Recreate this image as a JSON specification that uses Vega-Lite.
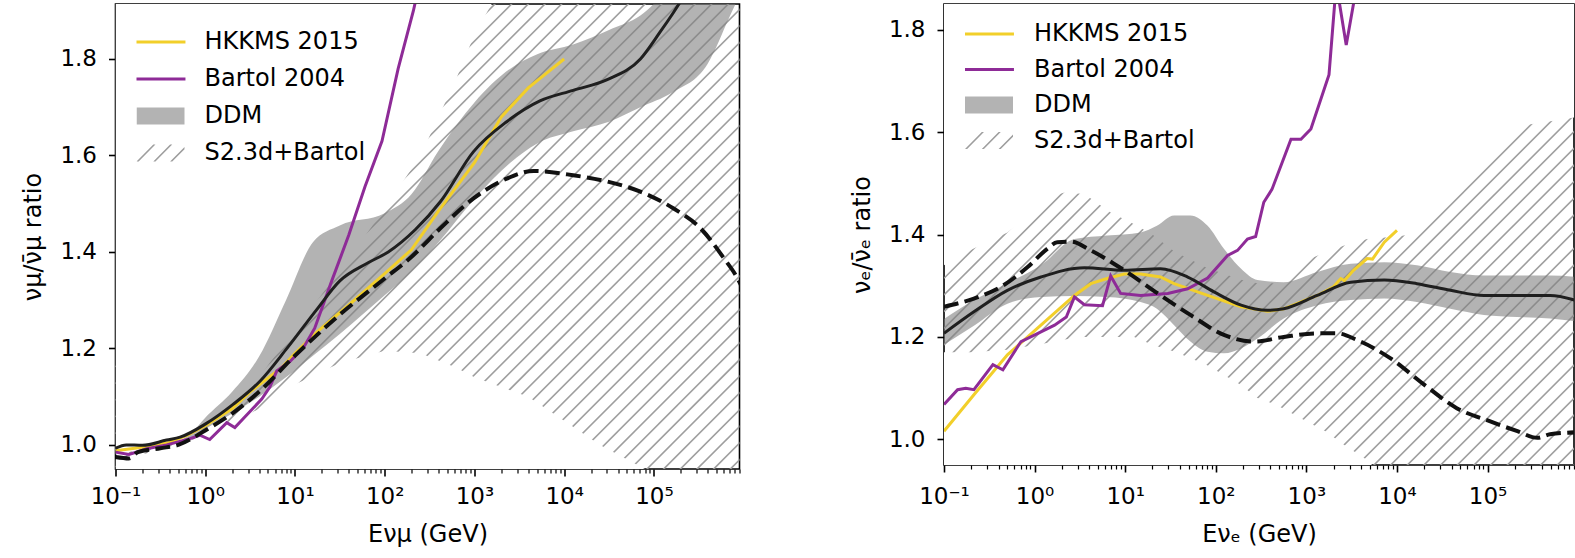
{
"$schema": "https://vega.github.io/schema/vega-lite/v6.json",
"background": "white",
"padding": {"left": 20.5, "top": 3, "right": 0, "bottom": 0},
"spacing": 107.5,
"resolve": {"scale": {"color": "independent", "shape": "independent"}, "legend": {"color": "independent", "shape": "independent"}},
"config": {
  "font": "DejaVu Sans",
  "view": {"stroke": "#000000", "strokeWidth": 1.6},
  "axis": {"grid": false, "domain": false, "tickColor": "#000000", "tickWidth": 1.6, "tickSize": 7, "labelFont": "DejaVu Sans", "labelFontSize": 23, "labelColor": "#000000", "titleFont": "DejaVu Sans", "titleFontSize": 24, "titleFontWeight": "normal", "titleColor": "#000000", "labelFlush": false, "labelOverlap": false},
  "legend": {"labelFont": "DejaVu Sans", "labelFontSize": 24, "labelColor": "#000000", "labelLimit": 400}
},
"datasets": {
  "legendItems": [{"series": "HKKMS 2015"}, {"series": "Bartol 2004"}, {"series": "DDM"}, {"series": "S2.3d+Bartol"}],
  "L_hatch": [
    {"h0": -0.36, "h1": 0.9429}, {"h0": -0.3254, "h1": 0.9775}, {"h0": -0.2908, "h1": 1.0121}, {"h0": -0.2563, "h1": 1.0466}, {"h0": -0.2217, "h1": 1.0812},
    {"h0": -0.1871, "h1": 1.1158}, {"h0": -0.1525, "h1": 1.1504}, {"h0": -0.1179, "h1": 1.185}, {"h0": -0.0834, "h1": 1.2195}, {"h0": -0.0488, "h1": 1.2541},
    {"h0": -0.0142, "h1": 1.2887}, {"h0": 0.0204, "h1": 1.3233}, {"h0": 0.055, "h1": 1.3579}, {"h0": 0.0895, "h1": 1.3924}, {"h0": 0.1241, "h1": 1.427},
    {"h0": 0.1587, "h1": 1.4616}, {"h0": 0.1933, "h1": 1.4962}, {"h0": 0.2279, "h1": 1.5308}, {"h0": 0.2624, "h1": 1.5653}, {"h0": 0.297, "h1": 1.5999},
    {"h0": 0.3316, "h1": 1.6345}, {"h0": 0.3662, "h1": 1.6691}, {"h0": 0.4008, "h1": 1.7037}, {"h0": 0.4353, "h1": 1.7382}, {"h0": 0.4699, "h1": 1.7728},
    {"h0": 0.5045, "h1": 1.8074}, {"h0": 0.5391, "h1": 1.842}, {"h0": 0.5737, "h1": 1.8766}, {"h0": 0.6082, "h1": 1.9111}, {"h0": 0.6428, "h1": 1.9457},
    {"h0": 0.6774, "h1": 1.9803}, {"h0": 0.712, "h1": 2.0149}, {"h0": 0.7466, "h1": 2.0495}, {"h0": 0.7811, "h1": 2.084}, {"h0": 0.8157, "h1": 2.1186},
    {"h0": 0.8503, "h1": 2.1532}, {"h0": 0.8849, "h1": 2.1878}, {"h0": 0.9195, "h1": 2.2224}, {"h0": 0.954, "h1": 2.2569}, {"h0": 0.9886, "h1": 2.2915},
    {"h0": 1.0232, "h1": 2.3261}, {"h0": 1.0578, "h1": 2.3607}, {"h0": 1.0924, "h1": 2.3953}, {"h0": 1.1269, "h1": 2.4298}, {"h0": 1.1615, "h1": 2.4644}
  ],
  "R_hatch": [
    {"h0": -0.28, "h1": 0.958}, {"h0": -0.2475, "h1": 0.9905}, {"h0": -0.2149, "h1": 1.0231}, {"h0": -0.1824, "h1": 1.0556}, {"h0": -0.1498, "h1": 1.0882},
    {"h0": -0.1173, "h1": 1.1207}, {"h0": -0.0848, "h1": 1.1532}, {"h0": -0.0522, "h1": 1.1858}, {"h0": -0.0197, "h1": 1.2183}, {"h0": 0.0129, "h1": 1.2509},
    {"h0": 0.0454, "h1": 1.2834}, {"h0": 0.0779, "h1": 1.3159}, {"h0": 0.1105, "h1": 1.3485}, {"h0": 0.143, "h1": 1.381}, {"h0": 0.1756, "h1": 1.4136},
    {"h0": 0.2081, "h1": 1.4461}, {"h0": 0.2406, "h1": 1.4786}, {"h0": 0.2732, "h1": 1.5112}, {"h0": 0.3057, "h1": 1.5437}, {"h0": 0.3383, "h1": 1.5763},
    {"h0": 0.3708, "h1": 1.6088}, {"h0": 0.4033, "h1": 1.6413}, {"h0": 0.4359, "h1": 1.6739}, {"h0": 0.4684, "h1": 1.7064}, {"h0": 0.501, "h1": 1.739},
    {"h0": 0.5335, "h1": 1.7715}, {"h0": 0.566, "h1": 1.804}, {"h0": 0.5986, "h1": 1.8366}, {"h0": 0.6311, "h1": 1.8691}, {"h0": 0.6637, "h1": 1.9017},
    {"h0": 0.6962, "h1": 1.9342}, {"h0": 0.7287, "h1": 1.9667}, {"h0": 0.7613, "h1": 1.9993}, {"h0": 0.7938, "h1": 2.0318}, {"h0": 0.8264, "h1": 2.0644},
    {"h0": 0.8589, "h1": 2.0969}, {"h0": 0.8914, "h1": 2.1294}, {"h0": 0.924, "h1": 2.162}, {"h0": 0.9565, "h1": 2.1945}, {"h0": 0.9891, "h1": 2.2271},
    {"h0": 1.0216, "h1": 2.2596}, {"h0": 1.0541, "h1": 2.2921}, {"h0": 1.0867, "h1": 2.3247}, {"h0": 1.1192, "h1": 2.3572}, {"h0": 1.1518, "h1": 2.3898},
    {"h0": 1.1843, "h1": 2.4223}, {"h0": 1.2168, "h1": 2.4548}, {"h0": 1.2494, "h1": 2.4874}, {"h0": 1.2819, "h1": 2.5199}, {"h0": 1.3145, "h1": 2.5525},
    {"h0": 1.347, "h1": 2.585}
  ],
  "L_hk": [{"E":0.1,"v":0.988},{"E":0.1995,"v":0.995},{"E":0.3981,"v":1.005},{"E":0.631,"v":1.02},{"E":1,"v":1.04},{"E":1.995,"v":1.075},{"E":3.162,"v":1.11},{"E":7.079,"v":1.16},{"E":10,"v":1.19},{"E":17.78,"v":1.235},{"E":39.81,"v":1.29},{"E":100,"v":1.355},{"E":199.5,"v":1.405},{"E":398.1,"v":1.485},{"E":1000,"v":1.585},{"E":1995,"v":1.68},{"E":3981,"v":1.74},{"E":10000,"v":1.8}],
  "L_ba": [{"E":0.1,"v":0.985},{"E":0.1413,"v":0.98},{"E":0.2239,"v":0.992},{"E":0.3715,"v":1.0},{"E":0.631,"v":1.011},{"E":0.871,"v":1.02},{"E":1.122,"v":1.011},{"E":1.738,"v":1.046},{"E":2.138,"v":1.036},{"E":4.266,"v":1.095},{"E":5.248,"v":1.12},{"E":6.26,"v":1.153},{"E":8.81,"v":1.173},{"E":12.4,"v":1.201},{"E":16.6,"v":1.242},{"E":25.7,"v":1.34},{"E":39.81,"v":1.435},{"E":60.26,"v":1.535},{"E":93.33,"v":1.63},{"E":141.3,"v":1.78},{"E":208.9,"v":1.9},{"E":316.2,"v":2.05}],
  "L_ddm": [{"E":0.1,"v":0.993},{"E":0.1318,"v":1.0},{"E":0.1995,"v":0.999},{"E":0.3715,"v":1.01},{"E":0.5248,"v":1.016},{"E":1,"v":1.043},{"E":2.042,"v":1.084},{"E":4.074,"v":1.132},{"E":8.128,"v":1.2},{"E":17.38,"v":1.28},{"E":31.62,"v":1.34},{"E":66.07,"v":1.378},{"E":109.6,"v":1.4},{"E":218.8,"v":1.446},{"E":416.9,"v":1.504},{"E":977.2,"v":1.608},{"E":2291,"v":1.67},{"E":5370,"v":1.713},{"E":12590,"v":1.735},{"E":30200,"v":1.757},{"E":70790,"v":1.8},{"E":117500,"v":1.856},{"E":166000,"v":1.897},{"E":251200,"v":1.95}],
  "L_s23": [{"E":0.1,"v":0.975},{"E":0.1413,"v":0.972},{"E":0.1778,"v":0.985},{"E":0.3162,"v":0.993},{"E":0.5012,"v":1.0},{"E":1,"v":1.03},{"E":1.995,"v":1.065},{"E":3.981,"v":1.11},{"E":10,"v":1.185},{"E":31.62,"v":1.27},{"E":100,"v":1.345},{"E":199.5,"v":1.39},{"E":416.9,"v":1.449},{"E":977.2,"v":1.511},{"E":2291,"v":1.552},{"E":4571,"v":1.568},{"E":12590,"v":1.559},{"E":30200,"v":1.546},{"E":70790,"v":1.525},{"E":166000,"v":1.49},{"E":331100,"v":1.449},{"E":602600,"v":1.387},{"E":851100,"v":1.346},{"E":1000000,"v":1.32}],
  "L_ddmband": [{"E":0.5012,"lo":1.006,"hi":1.006},{"E":0.7079,"lo":1.015,"hi":1.025},{"E":1,"lo":1.033,"hi":1.056},{"E":1.995,"lo":1.065,"hi":1.11},{"E":3.981,"lo":1.1,"hi":1.183},{"E":7.943,"lo":1.14,"hi":1.3},{"E":15.85,"lo":1.185,"hi":1.42},{"E":31.62,"lo":1.23,"hi":1.455},{"E":100,"lo":1.31,"hi":1.48},{"E":199.5,"lo":1.36,"hi":1.52},{"E":398.1,"lo":1.42,"hi":1.61},{"E":1000,"lo":1.51,"hi":1.71},{"E":2512,"lo":1.585,"hi":1.78},{"E":5012,"lo":1.625,"hi":1.81},{"E":12590,"lo":1.65,"hi":1.83},{"E":31620,"lo":1.67,"hi":1.86},{"E":70790,"lo":1.7,"hi":1.89},{"E":158500,"lo":1.73,"hi":1.95},{"E":398100,"lo":1.79,"hi":2.0},{"E":707900,"lo":1.89,"hi":2.05},{"E":1000000,"lo":1.95,"hi":2.1}],
  "L_hband": [{"E":0.1,"lo":0.97,"hi":0.98},{"E":0.3162,"lo":0.988,"hi":0.998},{"E":0.7943,"lo":1.013,"hi":1.03},{"E":1.995,"lo":1.045,"hi":1.08},{"E":3.981,"lo":1.075,"hi":1.14},{"E":10,"lo":1.125,"hi":1.24},{"E":31.62,"lo":1.17,"hi":1.36},{"E":100,"lo":1.195,"hi":1.49},{"E":251.2,"lo":1.19,"hi":1.6},{"E":631,"lo":1.16,"hi":1.76},{"E":1000,"lo":1.14,"hi":1.85},{"E":1995,"lo":1.12,"hi":1.95},{"E":3981,"lo":1.1,"hi":2.05},{"E":10000,"lo":1.05,"hi":2.1},{"E":25120,"lo":1.0,"hi":2.1},{"E":79430,"lo":0.95,"hi":2.1},{"E":199500,"lo":0.9,"hi":2.1},{"E":1000000,"lo":0.8,"hi":2.1}],
  "R_hk": [{"E":0.1,"v":1.016},{"E":0.2138,"v":1.087},{"E":0.5012,"v":1.165},{"E":1.175,"v":1.223},{"E":2.754,"v":1.281},{"E":4.169,"v":1.304},{"E":6.31,"v":1.314},{"E":9.772,"v":1.323},{"E":14.79,"v":1.323},{"E":24.55,"v":1.317},{"E":34.67,"v":1.304},{"E":81.28,"v":1.281},{"E":190.5,"v":1.259},{"E":371.5,"v":1.25},{"E":562.3,"v":1.255},{"E":1318,"v":1.281},{"E":1995,"v":1.298},{"E":2399,"v":1.314},{"E":2630,"v":1.31},{"E":3311,"v":1.33},{"E":4677,"v":1.353},{"E":5370,"v":1.352},{"E":7244,"v":1.385},{"E":10000,"v":1.408}],
  "R_ba": [{"E":0.1,"v":1.068},{"E":0.1413,"v":1.097},{"E":0.1738,"v":1.1},{"E":0.2138,"v":1.097},{"E":0.3467,"v":1.146},{"E":0.4467,"v":1.136},{"E":0.7079,"v":1.191},{"E":1.175,"v":1.21},{"E":1.66,"v":1.223},{"E":2.239,"v":1.239},{"E":2.754,"v":1.278},{"E":3.548,"v":1.263},{"E":5.623,"v":1.261},{"E":6.918,"v":1.319},{"E":8.913,"v":1.285},{"E":14.79,"v":1.281},{"E":29.51,"v":1.285},{"E":48.98,"v":1.294},{"E":81.28,"v":1.315},{"E":134.9,"v":1.359},{"E":173.8,"v":1.369},{"E":223.9,"v":1.391},{"E":275.4,"v":1.396},{"E":338.8,"v":1.463},{"E":416.9,"v":1.488},{"E":676.1,"v":1.586},{"E":871,"v":1.586},{"E":1122,"v":1.606},{"E":1778,"v":1.712},{"E":2138,"v":1.89},{"E":2754,"v":1.77},{"E":3715,"v":1.9},{"E":4467,"v":2.05}],
  "R_ddm": [{"E":0.1,"v":1.207},{"E":0.2138,"v":1.249},{"E":0.5012,"v":1.291},{"E":1.175,"v":1.317},{"E":3.548,"v":1.335},{"E":9.772,"v":1.33},{"E":24.55,"v":1.333},{"E":48.98,"v":1.317},{"E":95.5,"v":1.288},{"E":190.5,"v":1.262},{"E":371.5,"v":1.252},{"E":562.3,"v":1.255},{"E":1318,"v":1.281},{"E":3090,"v":1.307},{"E":7244,"v":1.311},{"E":16600,"v":1.304},{"E":38900,"v":1.291},{"E":91200,"v":1.281},{"E":213800,"v":1.281},{"E":489800,"v":1.281},{"E":1000000,"v":1.27}],
  "R_s23": [{"E":0.1,"v":1.259},{"E":0.2138,"v":1.275},{"E":0.4266,"v":1.298},{"E":0.8318,"v":1.336},{"E":1.38,"v":1.372},{"E":1.778,"v":1.385},{"E":2.512,"v":1.386},{"E":4.169,"v":1.369},{"E":9.772,"v":1.33},{"E":22.91,"v":1.285},{"E":52.48,"v":1.243},{"E":123,"v":1.204},{"E":263,"v":1.191},{"E":562.3,"v":1.2},{"E":1318,"v":1.207},{"E":2188,"v":1.207},{"E":3631,"v":1.194},{"E":8511,"v":1.158},{"E":19950,"v":1.107},{"E":45710,"v":1.061},{"E":107200,"v":1.035},{"E":213800,"v":1.016},{"E":354800,"v":1.003},{"E":489800,"v":1.01},{"E":1000000,"v":1.014}],
  "R_ddmband": [{"E":0.1,"lo":1.185,"hi":1.235},{"E":0.2138,"lo":1.222,"hi":1.272},{"E":0.5012,"lo":1.265,"hi":1.305},{"E":1.175,"lo":1.278,"hi":1.34},{"E":2.754,"lo":1.28,"hi":1.391},{"E":6.31,"lo":1.278,"hi":1.398},{"E":14.79,"lo":1.268,"hi":1.404},{"E":22.39,"lo":1.255,"hi":1.417},{"E":34.67,"lo":1.223,"hi":1.437},{"E":52.48,"lo":1.191,"hi":1.437},{"E":81.28,"lo":1.171,"hi":1.417},{"E":123,"lo":1.168,"hi":1.372},{"E":190.5,"lo":1.178,"hi":1.333},{"E":288.4,"lo":1.197,"hi":1.311},{"E":562.3,"lo":1.236,"hi":1.307},{"E":1318,"lo":1.262,"hi":1.327},{"E":3090,"lo":1.272,"hi":1.343},{"E":7244,"lo":1.275,"hi":1.346},{"E":16600,"lo":1.268,"hi":1.34},{"E":38900,"lo":1.255,"hi":1.327},{"E":91200,"lo":1.243,"hi":1.32},{"E":213800,"lo":1.239,"hi":1.32},{"E":489800,"lo":1.236,"hi":1.32},{"E":1000000,"lo":1.23,"hi":1.317}],
  "R_hband": [{"E":0.1,"lo":1.17,"hi":1.34},{"E":0.1995,"lo":1.17,"hi":1.37},{"E":0.5012,"lo":1.175,"hi":1.404},{"E":1.585,"lo":1.19,"hi":1.475},{"E":2.138,"lo":1.195,"hi":1.482},{"E":3.548,"lo":1.2,"hi":1.479},{"E":6.918,"lo":1.2,"hi":1.443},{"E":12.59,"lo":1.2,"hi":1.42},{"E":19.95,"lo":1.185,"hi":1.4},{"E":35.48,"lo":1.171,"hi":1.366},{"E":79.43,"lo":1.145,"hi":1.335},{"E":186.2,"lo":1.107,"hi":1.312},{"E":288.4,"lo":1.081,"hi":1.305},{"E":457.1,"lo":1.068,"hi":1.305},{"E":1112,"lo":1.031,"hi":1.353},{"E":1622,"lo":1.016,"hi":1.365},{"E":2570,"lo":0.99,"hi":1.378},{"E":4677,"lo":0.96,"hi":1.391},{"E":10000,"lo":0.9,"hi":1.396},{"E":14130,"lo":0.88,"hi":1.4},{"E":31620,"lo":0.85,"hi":1.45},{"E":90570,"lo":0.8,"hi":1.534},{"E":229100,"lo":0.8,"hi":1.612},{"E":691800,"lo":0.8,"hi":1.625},{"E":1000000,"lo":0.8,"hi":1.63}]
},
"hconcat": [
  {
    "width": 624, "height": 465,
    "resolve": {"axis": {"x": "independent", "y": "independent"}},
    "layer": [
      {"data": {"name": "L_hatch"}, "mark": {"type": "rule", "clip": true, "color": "#9e9e9e", "strokeWidth": 1.6},
       "encoding": {"x": {"datum": 0.1, "type": "quantitative", "scale": {"type": "log", "domain": [0.1, 900000], "nice": false}, "axis": null}, "x2": {"datum": 1000000},
                    "y": {"field": "h0", "type": "quantitative", "scale": {"domain": [0.95, 1.914], "nice": false, "zero": false}, "axis": null}, "y2": {"field": "h1"}}},
      {"data": {"name": "L_hband"}, "mark": {"type": "area", "clip": true, "color": "#ffffff", "opacity": 1},
       "encoding": {"x": {"field": "E", "type": "quantitative", "scale": {"type": "log", "domain": [0.1, 900000], "nice": false}, "axis": null},
                    "y": {"field": "hi", "type": "quantitative", "scale": {"domain": [0.95, 1.914], "nice": false, "zero": false}, "axis": null}, "y2": {"datum": 2.5}}},
      {"data": {"name": "L_hband"}, "mark": {"type": "area", "clip": true, "color": "#ffffff", "opacity": 1},
       "encoding": {"x": {"field": "E", "type": "quantitative", "scale": {"type": "log", "domain": [0.1, 900000], "nice": false}, "axis": null},
                    "y": {"field": "lo", "type": "quantitative", "scale": {"domain": [0.95, 1.914], "nice": false, "zero": false}, "axis": null}, "y2": {"datum": 0.5}}},
      {"data": {"name": "L_ddmband"}, "mark": {"type": "area", "clip": true, "color": "#808080", "opacity": 0.6, "interpolate": "monotone"},
       "encoding": {"x": {"field": "E", "type": "quantitative", "scale": {"type": "log", "domain": [0.1, 900000], "nice": false},
                          "axis": {"orient": "bottom", "values": [0.2,0.3,0.4,0.5,0.6,0.7,0.8,0.9,2,3,4,5,6,7,8,9,20,30,40,50,60,70,80,90,200,300,400,500,600,700,800,900,2000,3000,4000,5000,6000,7000,8000,9000,20000,30000,40000,50000,60000,70000,80000,90000,200000,300000,400000,500000,600000,700000,800000,900000], "labels": false, "title": null, "tickSize": 4, "tickWidth": 1.2}},
                    "y": {"field": "lo", "type": "quantitative", "scale": {"domain": [0.95, 1.914], "nice": false, "zero": false}, "axis": null}, "y2": {"field": "hi"}}},
      {"data": {"name": "L_hk"}, "mark": {"type": "line", "clip": true, "color": "#f2cf2a", "strokeWidth": 3},
       "encoding": {"x": {"field": "E", "type": "quantitative", "scale": {"type": "log", "domain": [0.1, 900000], "nice": false}, "axis": null},
                    "y": {"field": "v", "type": "quantitative", "scale": {"domain": [0.95, 1.914], "nice": false, "zero": false}, "axis": null}}},
      {"data": {"name": "L_ba"}, "mark": {"type": "line", "clip": true, "color": "#8e2b97", "strokeWidth": 3},
       "encoding": {"x": {"field": "E", "type": "quantitative", "scale": {"type": "log", "domain": [0.1, 900000], "nice": false}, "axis": null},
                    "y": {"field": "v", "type": "quantitative", "scale": {"domain": [0.95, 1.914], "nice": false, "zero": false}, "axis": null}}},
      {"data": {"name": "L_ddm"}, "mark": {"type": "line", "clip": true, "color": "#1f1f1f", "strokeWidth": 3, "interpolate": "monotone"},
       "encoding": {"x": {"field": "E", "type": "quantitative", "scale": {"type": "log", "domain": [0.1, 900000], "nice": false},
                          "axis": {"orient": "bottom", "values": [0.1,1,10,100,1000,10000,100000], "labelExpr": "datum.value < 0.5 ? '10⁻¹' : datum.value < 5 ? '10⁰' : datum.value < 50 ? '10¹' : datum.value < 500 ? '10²' : datum.value < 5000 ? '10³' : datum.value < 50000 ? '10⁴' : '10⁵'", "title": "Eνμ (GeV)", "labelPadding": 9, "titlePadding": 14}},
                    "y": {"field": "v", "type": "quantitative", "scale": {"domain": [0.95, 1.914], "nice": false, "zero": false},
                          "axis": {"orient": "left", "values": [1.0,1.2,1.4,1.6,1.8], "format": ".1f", "title": "νμ/ν̄μ ratio", "labelPadding": 12, "titlePadding": 14}}}},
      {"data": {"name": "L_s23"}, "mark": {"type": "line", "clip": true, "color": "#111111", "strokeWidth": 4, "strokeDash": [14.8, 6.4], "interpolate": "monotone"},
       "encoding": {"x": {"field": "E", "type": "quantitative", "scale": {"type": "log", "domain": [0.1, 900000], "nice": false}, "axis": null},
                    "y": {"field": "v", "type": "quantitative", "scale": {"domain": [0.95, 1.914], "nice": false, "zero": false}, "axis": null}}},
      {"data": {"name": "legendItems"}, "mark": {"type": "point", "opacity": 0, "filled": true},
       "encoding": {
         "color": {"field": "series", "type": "nominal",
          "scale": {"domain": ["HKKMS 2015", "Bartol 2004", "DDM", "S2.3d+Bartol"], "range": ["#f2cf2a", "#8e2b97", "#b3b3b3", "#9e9e9e"]},
          "legend": {"orient": "none", "legendX": 21, "legendY": 29, "title": null, "padding": 0, "clipHeight": 18, "rowPadding": 13, "labelOffset": 20, "labelFontSize": 24, "symbolSize": 2304, "symbolStrokeWidth": 0, "symbolOpacity": 1}},
         "shape": {"field": "series", "type": "nominal",
          "scale": {"domain": ["HKKMS 2015", "Bartol 2004", "DDM", "S2.3d+Bartol"], "range": ["M-1.04,-0.0625H1.04V0.0625H-1.04Z", "M-1.04,-0.0625H1.04V0.0625H-1.04Z", "M-1,-0.35H1V0.35H-1Z", "M-1,0.35L-0.91,0.35L-0.21,-0.35L-0.3,-0.35ZM-0.3,0.35L-0.21,0.35L0.49,-0.35L0.4,-0.35ZM0.4,0.35L0.49,0.35L1,-0.16L1,-0.25Z"]},
          "legend": {"orient": "none", "legendX": 21, "legendY": 29, "title": null, "padding": 0, "clipHeight": 18, "rowPadding": 13, "labelOffset": 20, "labelFontSize": 24, "symbolSize": 2304, "symbolStrokeWidth": 0, "symbolOpacity": 1}}}}
    ]
  },
  {
    "width": 630, "height": 461,
    "resolve": {"axis": {"x": "independent", "y": "independent"}},
    "layer": [
      {"data": {"name": "R_hatch"}, "mark": {"type": "rule", "clip": true, "color": "#9e9e9e", "strokeWidth": 1.6},
       "encoding": {"x": {"datum": 0.1, "type": "quantitative", "scale": {"type": "log", "domain": [0.1, 900000], "nice": false}, "axis": null}, "x2": {"datum": 1000000},
                    "y": {"field": "h0", "type": "quantitative", "scale": {"domain": [0.95, 1.85], "nice": false, "zero": false}, "axis": null}, "y2": {"field": "h1"}}},
      {"data": {"name": "R_hband"}, "mark": {"type": "area", "clip": true, "color": "#ffffff", "opacity": 1},
       "encoding": {"x": {"field": "E", "type": "quantitative", "scale": {"type": "log", "domain": [0.1, 900000], "nice": false}, "axis": null},
                    "y": {"field": "hi", "type": "quantitative", "scale": {"domain": [0.95, 1.85], "nice": false, "zero": false}, "axis": null}, "y2": {"datum": 2.5}}},
      {"data": {"name": "R_hband"}, "mark": {"type": "area", "clip": true, "color": "#ffffff", "opacity": 1},
       "encoding": {"x": {"field": "E", "type": "quantitative", "scale": {"type": "log", "domain": [0.1, 900000], "nice": false}, "axis": null},
                    "y": {"field": "lo", "type": "quantitative", "scale": {"domain": [0.95, 1.85], "nice": false, "zero": false}, "axis": null}, "y2": {"datum": 0.5}}},
      {"data": {"name": "R_ddmband"}, "mark": {"type": "area", "clip": true, "color": "#808080", "opacity": 0.6, "interpolate": "monotone"},
       "encoding": {"x": {"field": "E", "type": "quantitative", "scale": {"type": "log", "domain": [0.1, 900000], "nice": false},
                          "axis": {"orient": "bottom", "values": [0.2,0.3,0.4,0.5,0.6,0.7,0.8,0.9,2,3,4,5,6,7,8,9,20,30,40,50,60,70,80,90,200,300,400,500,600,700,800,900,2000,3000,4000,5000,6000,7000,8000,9000,20000,30000,40000,50000,60000,70000,80000,90000,200000,300000,400000,500000,600000,700000,800000,900000], "labels": false, "title": null, "tickSize": 4, "tickWidth": 1.2}},
                    "y": {"field": "lo", "type": "quantitative", "scale": {"domain": [0.95, 1.85], "nice": false, "zero": false}, "axis": null}, "y2": {"field": "hi"}}},
      {"data": {"name": "R_hk"}, "mark": {"type": "line", "clip": true, "color": "#f2cf2a", "strokeWidth": 3},
       "encoding": {"x": {"field": "E", "type": "quantitative", "scale": {"type": "log", "domain": [0.1, 900000], "nice": false}, "axis": null},
                    "y": {"field": "v", "type": "quantitative", "scale": {"domain": [0.95, 1.85], "nice": false, "zero": false}, "axis": null}}},
      {"data": {"name": "R_ba"}, "mark": {"type": "line", "clip": true, "color": "#8e2b97", "strokeWidth": 3},
       "encoding": {"x": {"field": "E", "type": "quantitative", "scale": {"type": "log", "domain": [0.1, 900000], "nice": false}, "axis": null},
                    "y": {"field": "v", "type": "quantitative", "scale": {"domain": [0.95, 1.85], "nice": false, "zero": false}, "axis": null}}},
      {"data": {"name": "R_ddm"}, "mark": {"type": "line", "clip": true, "color": "#1f1f1f", "strokeWidth": 3, "interpolate": "monotone"},
       "encoding": {"x": {"field": "E", "type": "quantitative", "scale": {"type": "log", "domain": [0.1, 900000], "nice": false},
                          "axis": {"orient": "bottom", "values": [0.1,1,10,100,1000,10000,100000], "labelExpr": "datum.value < 0.5 ? '10⁻¹' : datum.value < 5 ? '10⁰' : datum.value < 50 ? '10¹' : datum.value < 500 ? '10²' : datum.value < 5000 ? '10³' : datum.value < 50000 ? '10⁴' : '10⁵'", "title": "Eνₑ (GeV)", "labelPadding": 13, "titlePadding": 14}},
                    "y": {"field": "v", "type": "quantitative", "scale": {"domain": [0.95, 1.85], "nice": false, "zero": false},
                          "axis": {"orient": "left", "values": [1.0,1.2,1.4,1.6,1.8], "format": ".1f", "title": "νₑ/ν̄ₑ ratio", "labelPadding": 12, "titlePadding": 14}}}},
      {"data": {"name": "R_s23"}, "mark": {"type": "line", "clip": true, "color": "#111111", "strokeWidth": 4, "strokeDash": [14.8, 6.4], "interpolate": "monotone"},
       "encoding": {"x": {"field": "E", "type": "quantitative", "scale": {"type": "log", "domain": [0.1, 900000], "nice": false}, "axis": null},
                    "y": {"field": "v", "type": "quantitative", "scale": {"domain": [0.95, 1.85], "nice": false, "zero": false}, "axis": null}}},
      {"data": {"name": "legendItems"}, "mark": {"type": "point", "opacity": 0, "filled": true},
       "encoding": {
         "color": {"field": "series", "type": "nominal",
          "scale": {"domain": ["HKKMS 2015", "Bartol 2004", "DDM", "S2.3d+Bartol"], "range": ["#f2cf2a", "#8e2b97", "#b3b3b3", "#9e9e9e"]},
          "legend": {"orient": "none", "legendX": 21, "legendY": 21, "title": null, "padding": 0, "clipHeight": 18, "rowPadding": 11.5, "labelOffset": 21, "labelFontSize": 24, "symbolSize": 2304, "symbolStrokeWidth": 0, "symbolOpacity": 1}},
         "shape": {"field": "series", "type": "nominal",
          "scale": {"domain": ["HKKMS 2015", "Bartol 2004", "DDM", "S2.3d+Bartol"], "range": ["M-1.04,-0.0625H1.04V0.0625H-1.04Z", "M-1.04,-0.0625H1.04V0.0625H-1.04Z", "M-1,-0.35H1V0.35H-1Z", "M-1,0.35L-0.91,0.35L-0.21,-0.35L-0.3,-0.35ZM-0.3,0.35L-0.21,0.35L0.49,-0.35L0.4,-0.35ZM0.4,0.35L0.49,0.35L1,-0.16L1,-0.25Z"]},
          "legend": {"orient": "none", "legendX": 21, "legendY": 21, "title": null, "padding": 0, "clipHeight": 18, "rowPadding": 11.5, "labelOffset": 21, "labelFontSize": 24, "symbolSize": 2304, "symbolStrokeWidth": 0, "symbolOpacity": 1}}}}
    ]
  }
]
}
